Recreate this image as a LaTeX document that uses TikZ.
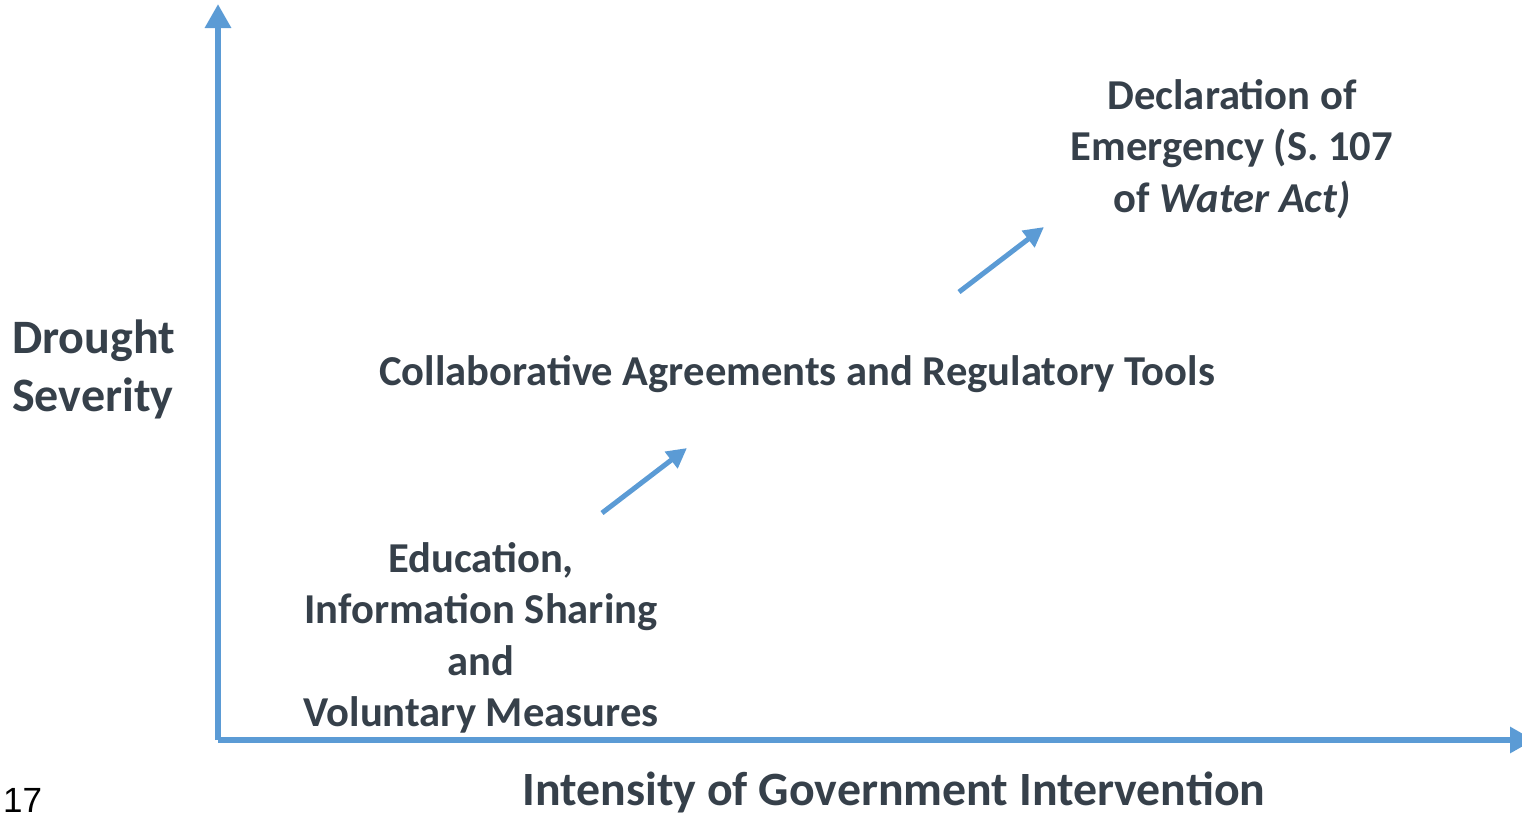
\documentclass[tikz,border=0pt]{standalone}
\usepackage{fontspec}
\setmainfont{Carlito}
\newfontfamily\arialfont{Liberation Sans}
\usetikzlibrary{arrows.meta}
\definecolor{axisblue}{HTML}{5B9BD5}
\definecolor{txt}{HTML}{36404A}
\tikzset{
  axis/.style={draw=axisblue, line width=6pt, -{Triangle[length=24pt,width=25pt]}},
  stepar/.style={draw=axisblue, line width=5pt, -{Triangle[length=20pt,width=20pt]}},
  lbl/.style={text=txt, font=\bfseries\fontsize{42.6}{51.5}\selectfont, align=center, inner sep=0pt},
}
\begin{document}
\begin{tikzpicture}[x=1pt,y=-1pt]
\useasboundingbox (0,0) rectangle (1522,814);
\begin{scope}
\clip (0,0) rectangle (1522,814);
\coordinate (o) at (218,740);
\coordinate (ytop) at (218,4);
\coordinate (xend) at (1534,740);
\draw[axis] (o) -- (ytop);
\draw[axis] (o) -- (xend);
\end{scope}
\coordinate (a1s) at (602,513);
\coordinate (a1e) at (687,448);
\coordinate (a2s) at (959,292);
\coordinate (a2e) at (1044,227);
\draw[stepar] (a1s) -- (a1e);
\draw[stepar] (a2s) -- (a2e);
\node[lbl, align=left, anchor=west, font=\bfseries\fontsize{48}{58}\selectfont] (ds) at (12,369) {Drought\\Severity};
\node[lbl] (collab) at (797,374) {Collaborative Agreements and Regulatory Tools};
\node[lbl] (decl) at (1232,149) {Declaration of\\Emergency (S. 107\\of \textit{Water Act)}};
\node[lbl] (edu) at (481,638) {Education,\\Information Sharing\\and\\Voluntary Measures};
\node[lbl, font=\bfseries\fontsize{47.8}{50}\selectfont] (igi) at (894,792) {Intensity of Government Intervention};
\node[text=black, font=\arialfont\fontsize{35}{40}\selectfont, anchor=west, inner sep=0pt] (pg) at (3,800) {17};
\end{tikzpicture}
\end{document}
